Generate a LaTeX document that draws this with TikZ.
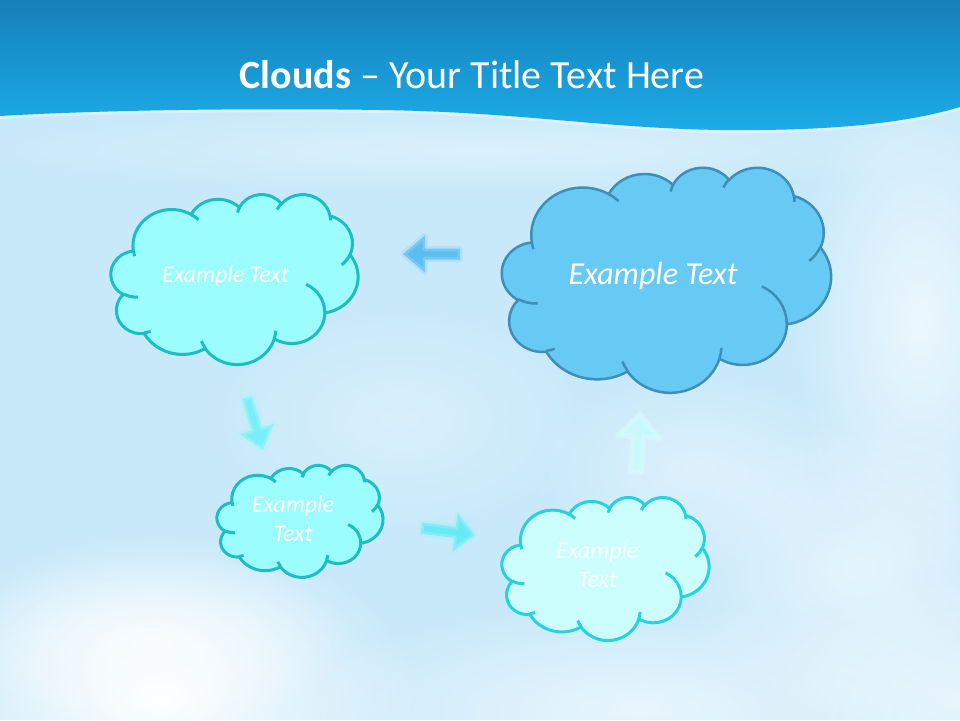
\documentclass[tikz,border=0pt]{standalone}
\usepackage{fontspec}
\setmainfont{Carlito}
\usetikzlibrary{fadings}
\tikzfading[name=softfade, inner color=transparent!0, outer color=transparent!100]

\definecolor{sky}{RGB}{200,233,250}
\definecolor{bantop}{RGB}{22,128,186}
\definecolor{banbot}{RGB}{28,172,232}
\definecolor{cyfill}{RGB}{155,253,253}
\definecolor{cyline}{RGB}{28,190,194}
\definecolor{lcfill}{RGB}{205,254,254}
\definecolor{lcline}{RGB}{36,210,224}
\definecolor{bfill}{RGB}{102,202,245}
\definecolor{bline}{RGB}{62,142,182}
\definecolor{aoneglow}{RGB}{150,214,245}
\definecolor{aonefill}{RGB}{92,190,240}
\definecolor{atwoglow}{RGB}{175,245,250}
\definecolor{atwofill}{RGB}{122,238,248}
\definecolor{athreeglow}{RGB}{165,240,248}
\definecolor{athreefill}{RGB}{104,234,245}
\definecolor{afourglow}{RGB}{225,252,253}
\definecolor{afourfill}{RGB}{198,250,252}

% OOXML-style elliptical arc: wR hR stAng swAng (geometric angles, degrees)
\newcommand\ooarc[4]{\pgfextra{%
  \pgfmathparse{atan2((#1)*sin(#3),(#2)*cos(#3))}\xdef\ooA{\pgfmathresult}%
  \pgfmathparse{atan2((#1)*sin((#3)+(#4)),(#2)*cos((#3)+(#4)))}\xdef\ooB{\pgfmathresult}%
  \pgfmathparse{\ooA+(#4)+mod(\ooB-\ooA-(#4)+900,360)-180}\xdef\ooE{\pgfmathresult}%
  } arc[x radius=#1, y radius=#2, start angle=\ooA, end angle=\ooE]}

\newcommand\cloudouter{(3.900,14.370)
  \ooarc{6.753}{9.190}{-190.48748}{123.78053}
  \ooarc{5.333}{7.267}{-144.10238}{89.94523}
  \ooarc{4.365}{5.945}{-145.80792}{99.72302}
  \ooarc{4.857}{6.595}{-130.98607}{117.24173}
  \ooarc{5.333}{7.273}{-78.70888}{109.02692}
  \ooarc{6.775}{9.220}{-46.26725}{130.26900}
  \ooarc{5.785}{7.867}{0.62502}{114.03333}
  \ooarc{6.752}{9.215}{22.45160}{115.17255}
  \ooarc{7.720}{10.543}{66.24263}{75.71102}
  \ooarc{4.360}{5.918}{-274.94208}{146.73557}
  \ooarc{4.345}{5.945}{-246.82850}{152.51885} -- cycle}

\newcommand\cloudinner{
  (4.693,26.177) \ooarc{4.345}{5.945}{86.74200}{26.42950}
  (6.928,34.899) \ooarc{4.360}{5.918}{73.61047}{11.44747}
  (16.478,39.090) \ooarc{6.752}{9.215}{137.62415}{14.08110}
  (28.827,34.751) \ooarc{6.752}{9.215}{6.45327}{15.99835}
  (34.129,22.954) \ooarc{5.785}{7.867}{-70.29235}{70.91737}
  (41.798,15.354) \ooarc{5.333}{7.273}{30.31803}{27.75150}
  (38.324,5.426) \ooarc{4.857}{6.595}{-13.74433}{14.85890}
  (29.078,3.952) \ooarc{4.857}{6.595}{-149.18145}{18.19537}
  (22.141,4.720) \ooarc{4.365}{5.945}{-163.49427}{17.68635}
  (14.000,5.192) \ooarc{6.753}{9.190}{-66.70695}{12.31935}
  (4.127,15.789) \ooarc{6.753}{9.190}{157.65435}{11.85817}}

% block arrow: tip at origin pointing +x; #1 length, #2 shaft, #3 head width, #4 head length
\newcommand\blockarrowpath[4]{(0,0) -- (-#4,#3/2) -- (-#4,#2/2) -- (-#1,#2/2)
  -- (-#1,-#2/2) -- (-#4,-#2/2) -- (-#4,-#3/2) -- cycle}

\tikzset{
  blob/.style={fill=white, path fading=softfade},
  cloudtext/.style={text=white, font=\fontsize{24}{29}\selectfont\itshape, align=center, inner sep=0pt},
  arrowglow/.style={draw=#1, line width=5pt, line join=round, draw opacity=0.45},
}

\begin{document}
\begin{tikzpicture}[x=1pt, y=-1pt]
\useasboundingbox (0,0) rectangle (960,720);
% sky
\fill[sky] (0,0) rectangle (960,720);
\fill[blob, fill opacity=1] (160,700) ellipse [x radius=260, y radius=170];
\fill[blob, fill opacity=0.7] (150,640) ellipse [x radius=200, y radius=90];
\fill[blob, fill opacity=0.6] (640,710) ellipse [x radius=360, y radius=110];
\fill[blob, fill opacity=0.65] (920,320) ellipse [x radius=130, y radius=260];
\fill[blob, fill opacity=0.55] (860,570) ellipse [x radius=190, y radius=150];
\fill[blob, fill opacity=0.55] (960,700) ellipse [x radius=200, y radius=130];
\fill[blob, fill opacity=0.4] (700,470) ellipse [x radius=170, y radius=100];
\fill[blob, fill opacity=0.35] (480,150) ellipse [x radius=520, y radius=45];
\fill[blob, fill opacity=0.3] (400,420) ellipse [x radius=200, y radius=120];

% banner
\draw[white, line width=6pt, draw opacity=0.3] (960,107) .. controls (900,125) and (820,131) .. (720,130)
  .. controls (600,128) and (520,112) .. (380,110) .. controls (250,108) and (100,110) .. (0,116);
\shade[top color=bantop, bottom color=banbot] (0,0) -- (960,0) -- (960,107)
  .. controls (900,125) and (820,131) .. (720,130)
  .. controls (600,128) and (520,112) .. (380,110)
  .. controls (250,108) and (100,110) .. (0,116) -- cycle;
\node[text=white, font=\fontsize{40}{46}\selectfont, anchor=base, inner sep=0pt] (title) at (472,88)
  {\textbf{Clouds} – Your Title Text Here};

% cloud 1 (top left)
\begin{scope}[shift={(111,194)}, xscale=247/43.2, yscale=170/43.2]
  \filldraw[fill=cyfill, draw=cyline, line width=3pt] \cloudouter;
  \draw[cyline, line width=3pt] \cloudinner;
\end{scope}
% cloud 2 (big, top right)
\begin{scope}[shift={(502,167)}, xscale=329/43.2, yscale=225/43.2]
  \filldraw[fill=bfill, draw=bline, line width=2.5pt] \cloudouter;
  \draw[bline, line width=2.5pt] \cloudinner;
\end{scope}
% cloud 3 (small, middle left)
\begin{scope}[shift={(217,465)}, xscale=166/43.2, yscale=112/43.2]
  \filldraw[fill=cyfill, draw=cyline, line width=3pt] \cloudouter;
  \draw[cyline, line width=3pt] \cloudinner;
\end{scope}
% cloud 4 (bottom right)
\begin{scope}[shift={(502,497)}, xscale=207/43.2, yscale=143/43.2]
  \filldraw[fill=lcfill, draw=lcline, line width=3pt] \cloudouter;
  \draw[lcline, line width=3pt] \cloudinner;
\end{scope}

\node[cloudtext, anchor=base] (t1) at (225.5,282) {Example Text};
\node[cloudtext, anchor=base, font=\fontsize{32}{38}\selectfont\itshape] (t2) at (653,284) {Example Text};
\node[cloudtext, anchor=base] (t3a) at (293,512) {Example};
\node[cloudtext, anchor=base] (t3b) at (293,541) {Text};
\node[cloudtext, anchor=base, text opacity=0.8] (t4a) at (597.5,558) {Example};
\node[cloudtext, anchor=base, text opacity=0.8] (t4b) at (597.5,587) {Text};

% arrows
\begin{scope}[shift={(403,254)}, rotate=180]
  \filldraw[arrowglow=aoneglow, fill=aonefill] \blockarrowpath{57}{11}{37}{22};
\end{scope}
\begin{scope}[shift={(263,450)}, rotate=-73]
  \filldraw[arrowglow=atwoglow, fill=atwofill] \blockarrowpath{55}{11}{36}{22};
\end{scope}
\begin{scope}[shift={(475,535)}, rotate=-7.4]
  \filldraw[arrowglow=athreeglow, fill=athreefill] \blockarrowpath{54}{11}{38}{20};
\end{scope}
\begin{scope}[shift={(640,414)}, rotate=86]
  \filldraw[arrowglow=afourglow, fill=afourfill] \blockarrowpath{58}{11}{42}{23};
\end{scope}
\end{tikzpicture}
\end{document}
